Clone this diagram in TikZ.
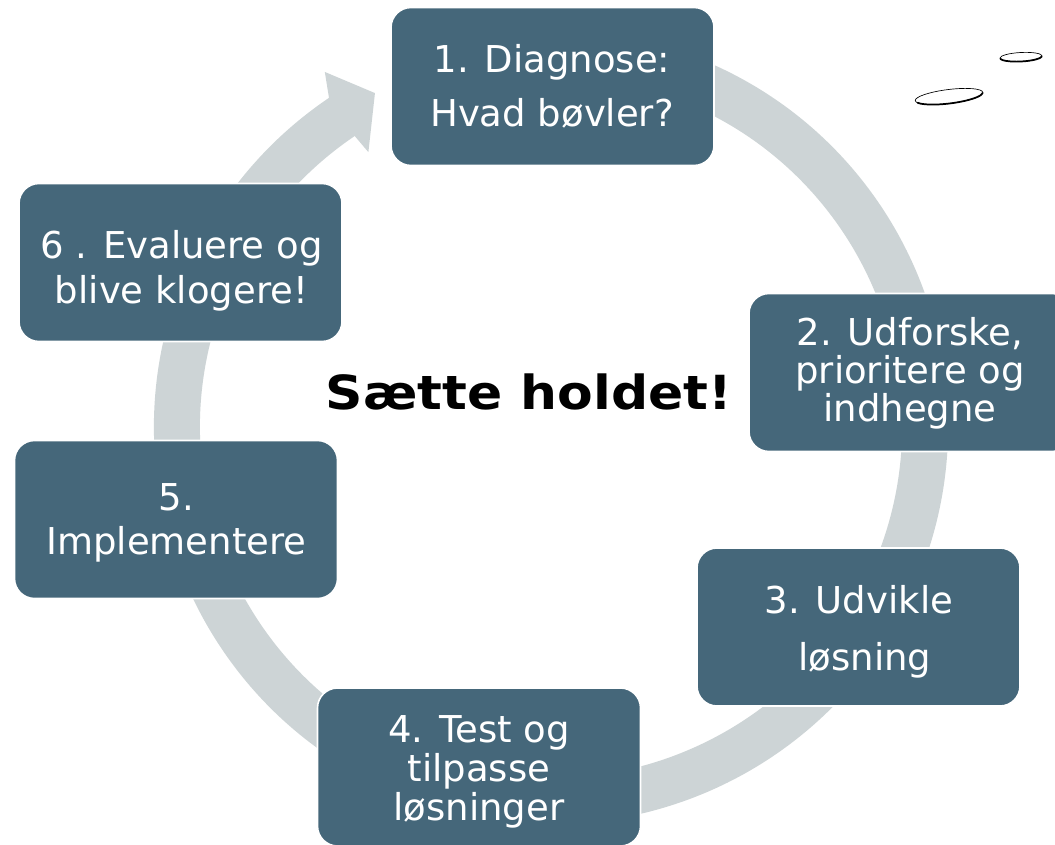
\documentclass[tikz,border=0pt]{standalone}
\usepackage{fontspec}
\setmainfont{DejaVu Sans}
\definecolor{boxblue}{HTML}{45677A}
\definecolor{ringgray}{HTML}{CDD4D6}
\begin{document}
\begin{tikzpicture}[x=0.75pt,y=0.75pt,
  stepbox/.style={draw=white, line width=1.2pt, fill=boxblue, rounded corners=15pt,
    minimum width=242.25pt, minimum height=118.5pt, inner sep=0pt},
  steptext/.style={text=white, align=center, inner sep=0pt,
    font=\fontsize{27.75pt}{#1}\selectfont},
  ring/.style={ringgray, line width=34.5pt},
  scribble/.style={black, line width=0.5pt},
  scribbleheavy/.style={black, line width=1.3pt, line cap=round}
]
\useasboundingbox (0,0) rectangle (1055,844);
\fill[white] (0,0) rectangle (1055,844);
\coordinate (c) at (551,417);
% ring
\draw[ring] (c) ++(70:374) arc[start angle=70, end angle=-237, radius=374];
\begin{scope}[shift={(551,417)}]
  \fill[ringgray] (122.5:421) -- (117.8:377.5) -- (123.6:330) -- (124:351) -- (124:397) -- cycle;
\end{scope}
% boxes
\node[stepbox] (b1) at (552.5,757.5) {};
\node[stepbox] (b2) at (910.5,471.5) {};
\node[stepbox] (b3) at (858.5,217) {};
\node[stepbox] (b4) at (479,77) {};
\node[stepbox] (b5) at (176,324.5) {};
\node[stepbox] (b6) at (180.5,581.5) {};
% texts
\node[steptext=40.5pt] (t1) at (552,757.3) {1. Diagnose:\\Hvad bøvler?};
\node[steptext=28.5pt] (t2) at (910,470.6) {2. Udforske,\\prioritere og\\indhegne};
\node[steptext=42.75pt] (t3) at (859,212) {3. Udvikle\\\hspace*{9pt}løsning};
\node[steptext=29.25pt] (t4) at (479,72.6) {4. Test og\\tilpasse\\løsninger};
\node[steptext=33pt] (t5) at (176.5,321.1) {5.\\Implementere};
\node[steptext=33.75pt] (t6) at (181.5,573.1) {6 . Evaluere og\\blive klogere!};
% title
\node[font=\bfseries\fontsize{35.25pt}{40pt}\selectfont, anchor=base, inner sep=0pt]
  (title) at (529,435) {\scalebox{1.105}[1]{Sætte holdet!}};
% scribbles
\begin{scope}[rotate around={7:(949,747.5)}]
  \draw[scribble] (949,747.5) ellipse[x radius=34, y radius=7];
  \draw[scribbleheavy] (949,747.5) ++(200:34 and 7) arc[start angle=200, end angle=355, x radius=34, y radius=7];
\end{scope}
\begin{scope}[rotate around={3:(1021,787)}]
  \draw[scribble] (1021,787) ellipse[x radius=21, y radius=4.5];
  \draw[scribbleheavy] (1021,787) ++(190:21 and 4.5) arc[start angle=190, end angle=350, x radius=21, y radius=4.5];
\end{scope}
\end{tikzpicture}
\end{document}
